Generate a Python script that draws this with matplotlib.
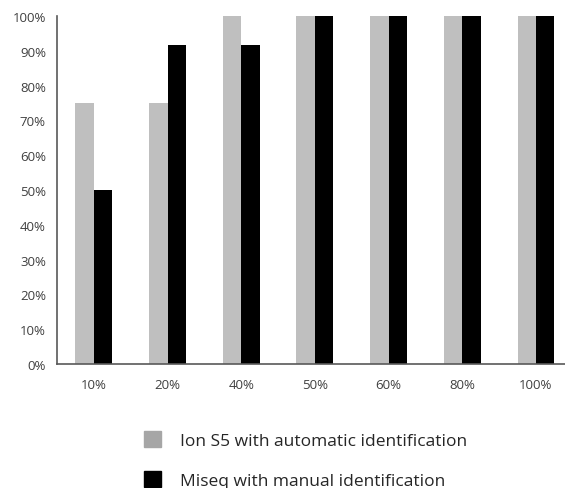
import numpy as np
import matplotlib.pyplot as plt
from matplotlib.patches import Patch

plt.rcParams['font.family'] = ['Open Sans', 'DejaVu Sans']

categories = ['10%', '20%', '40%', '50%', '60%', '80%', '100%']
ion_s5 = [75, 75, 100, 100, 100, 100, 100]
miseq = [50, 91.67, 91.67, 100, 100, 100, 100]
series_names = ['Ion S5 with automatic identification', 'Miseq with manual identification']
yticks = np.arange(0, 101, 10)

f = plt.figure(figsize=(5.65, 4.89), dpi=100)
ax = f.add_axes([57/565, 124/489, 508/565, 348/489])

x = np.arange(len(categories))
w = 0.25
ax.bar(x - w/2, ion_s5, w, color='#BFBFBF')
ax.bar(x + w/2, miseq, w, color='#000000')

# axes setup
ax.set_xlim(-0.5, len(categories) - 1 + 0.394)
ax.set_ylim(0, 100)
ax.set_xticks(x)
ax.set_xticklabels(categories)
ax.set_yticks(yticks)
ax.set_yticklabels(['%d%%' % v for v in yticks])
ax.tick_params(length=0, labelsize=9.5, colors='#404040')
ax.tick_params(axis='x', pad=10)
ax.tick_params(axis='y', pad=8)

ax.spines['top'].set_visible(False)
ax.spines['right'].set_visible(False)
for s in ['left', 'bottom']:
    ax.spines[s].set_color('#595959')
    ax.spines[s].set_linewidth(1.2)

handles = [Patch(color='#A6A6A6'), Patch(color='#000000')]
f.legend(handles, series_names, loc='upper left', bbox_to_anchor=(144/565, 1 - 432/489),
         frameon=False, fontsize=12.5, handlelength=1.0, handleheight=1.0,
         handletextpad=1.1, labelspacing=1.3, borderpad=0, borderaxespad=0,
         labelcolor='#262626')

f.patch.set_facecolor('white')
f.savefig('out.png', dpi=100)
